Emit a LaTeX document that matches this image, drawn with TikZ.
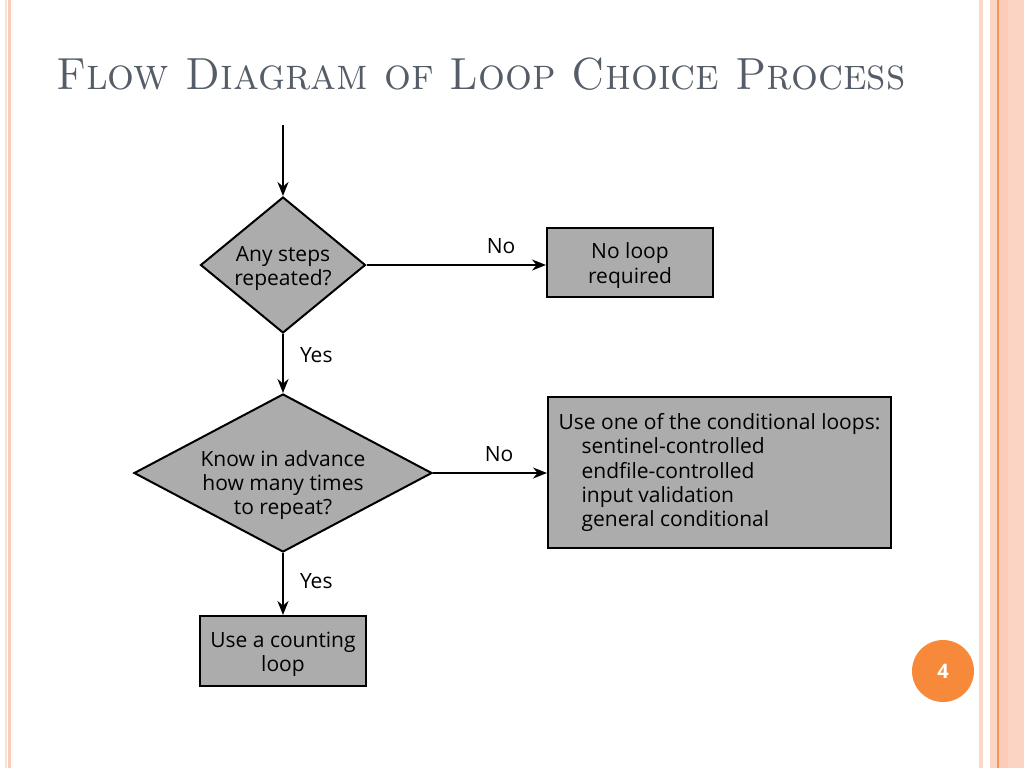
\documentclass[tikz,border=0pt]{standalone}
\usepackage{fontspec}
\newfontfamily\flowfont{Open Sans}
\usetikzlibrary{arrows.meta, shapes.geometric}

\definecolor{boxgray}{RGB}{172,172,172}
\definecolor{titlegray}{RGB}{85,93,105}
\definecolor{peach}{RGB}{251,204,184}
\definecolor{peachline}{RGB}{242,150,100}
\definecolor{badge}{RGB}{246,138,58}

\newcommand{\toppad}{\rule{0pt}{11pt}}

\begin{document}
\begin{tikzpicture}[x=0.5pt, y=-0.5pt, >={Stealth[length=7pt, width=5.5pt]}, line width=1pt,
  decision/.style={diamond, draw, fill=boxgray, inner sep=0pt, align=center,
    font=\flowfont\fontsize{10.5}{12.2}\selectfont},
  action/.style={rectangle, draw, fill=boxgray, inner sep=0pt, align=center,
    font=\flowfont\fontsize{10.5}{12.2}\selectfont},
  flowtext/.style={align=center, inner sep=0pt, font=\flowfont\fontsize{10.5}{12.2}\selectfont},
  flowlabel/.style={font=\flowfont\fontsize{10.5}{12.2}\selectfont, inner sep=2pt}]

  \useasboundingbox (0,0) rectangle (1024,768);

  % slide borders
  \fill[peach!60] (5,0) rectangle (7,768);
  \fill[peach] (8,0) rectangle (11,768);
  \fill[peach!80] (979,0) rectangle (983,768);
  \fill[peach!85] (990,0) rectangle (1024,768);
  \fill[peach] (999,0) rectangle (1008,768);
  \draw[peachline, line width=0.6pt] (998,0) -- (998,768);

  % title and page number
  \node[anchor=base west, text=titlegray, inner sep=0pt,
    font=\fontsize{22.5}{27}\selectfont] (title) at (55,89)
    {\scalebox{0.94}[1]{\textsc{Flow Diagram of Loop Choice Process}}};
  \node[circle, fill=badge, minimum size=31pt, text=white,
    font=\flowfont\bfseries\fontsize{10}{12}\selectfont] (page) at (943,671) {4};

  % decisions and actions
  \coordinate (start) at (283,125);
  \node[decision, aspect=1.21, minimum width=82.5pt, minimum height=68pt] (repeat) at (283,265)
    {\toppad Any steps\\repeated?};
  \node[action, minimum width=83pt, minimum height=34.5pt] (noloop) at (630,262.5)
    {\toppad No loop\\required};
  \node[decision, minimum width=149pt, minimum height=79pt,
    label={[flowtext, yshift=-6pt]center:Know in advance\\how many times\\to repeat?}] (advance) at (283,473) {};
  \node[action, minimum width=171.5pt, minimum height=75.5pt, align=left] (cond) at (719.5,472.5)
    {Use one of the conditional loops:\\
     \hspace*{11.5pt}sentinel-controlled\\
     \hspace*{11.5pt}endfile-controlled\\
     \hspace*{11.5pt}input validation\\
     \hspace*{11.5pt}general conditional};
  \node[action, minimum width=83pt, minimum height=35pt] (counting) at (283,651)
    {\toppad Use a counting\\loop};

  % connectors
  \draw[->] (start) -- (repeat.north);
  \draw[->] (repeat.east) -- node[flowlabel, pos=0.75, above=3pt] {No} (repeat.east -| noloop.west);
  \draw[->] (repeat.south) -- node[flowlabel, pos=0.35, right=6pt] {Yes} (advance.north);
  \draw[->] (advance.east) -- node[flowlabel, pos=0.58, above=3pt] {No} (advance.east -| cond.west);
  \draw[->] (advance.south) -- node[flowlabel, pos=0.45, right=6pt] {Yes} (counting.north);

\end{tikzpicture}
\end{document}
